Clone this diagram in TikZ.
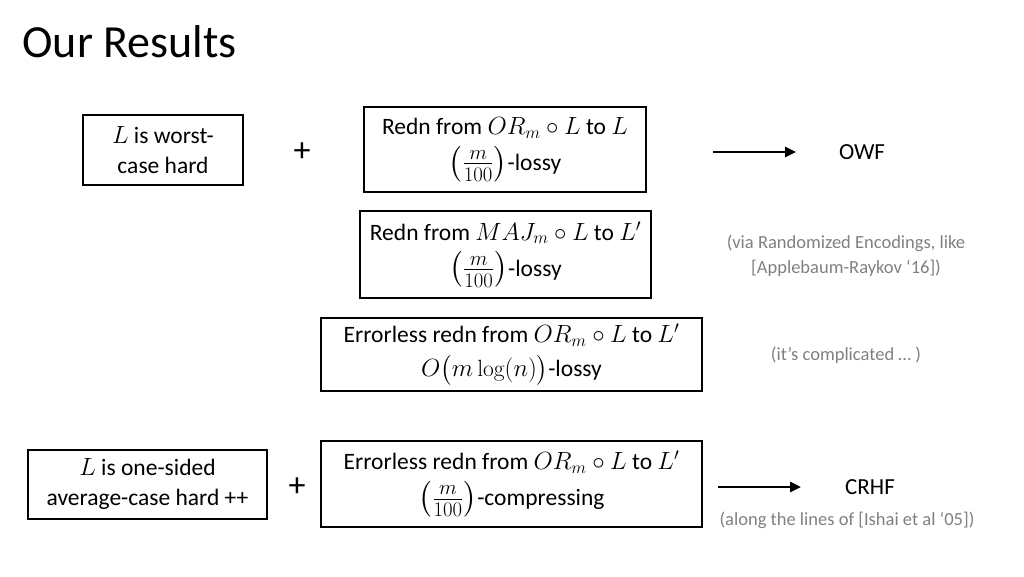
\documentclass[tikz,border=0pt]{standalone}
\usepackage{amsmath}
\usepackage{graphicx}
\usepackage{fontspec}
\setmainfont{Carlito}
\setmathrm{Latin Modern Roman}
\usetikzlibrary{arrows.meta}
\definecolor{note}{HTML}{808080}
\newcommand{\mfrac}{\raisebox{-1pt}{\scalebox{1.2}{$\left(\frac{m}{100}\right)$}}}
\tikzset{
  box/.style={draw, line width=1.6pt, align=center, inner sep=0pt, font=\fontsize{23.5}{30}\selectfont},
  plus/.style={font=\fontsize{34}{34}\selectfont},
  notetext/.style={text=note, align=center, font=\fontsize{18.5}{25}\selectfont},
  result/.style={font=\fontsize{23}{26}\selectfont},
  arr/.style={-{Triangle[length=11pt,width=10pt]}, line width=2.6pt}
}
\begin{document}
\begin{tikzpicture}[x=1pt,y=-1pt]
\useasboundingbox (0,0) rectangle (1024,576);
\node[anchor=west, font=\fontsize{46}{50}\selectfont] (title) at (19,42) {Our Results};
% row 1
\node[box, minimum width=160pt, minimum height=70pt] (b1) at (163,150) {$L$ is worst-\\case hard};
\node[plus] (p1) at (302,152) {+};
\node[box, minimum width=282pt, minimum height=85pt] (b2) at (505,149.5) {Redn from $OR_m\circ L$ to $L$\\[6pt]\mfrac-lossy};
\coordinate (a1s) at (713,152);
\coordinate (a1e) at (796,152);
\draw[arr] (a1s) -- (a1e);
\node[result] (owf) at (862,152) {OWF};
% row 2
\node[box, minimum width=291pt, minimum height=87pt] (b3) at (505.5,254.5) {Redn from $MAJ_m\circ L$ to $L'$\\[6pt]\mfrac-lossy};
\node[notetext] (n1) at (846,256) {(via Randomized Encodings, like\\{}[Applebaum-Raykov `16])};
% row 3
\node[box, minimum width=381pt, minimum height=73pt] (b4) at (511.5,354.5) {Errorless redn from $OR_m\circ L$ to $L'$\\[4pt]$O\bigl(m\log(n)\bigr)$-lossy};
\node[notetext] (n2) at (846,355) {(it's complicated \dots\ )};
% row 4
\node[box, minimum width=239pt, minimum height=69pt] (b5) at (147.5,484.5) {$L$ is one-sided\\average-case hard ++};
\node[plus] (p2) at (297,487) {+};
\node[box, minimum width=381pt, minimum height=86pt] (b6) at (511.5,484) {Errorless redn from $OR_m\circ L$ to $L'$\\[6pt]\mfrac-compressing};
\coordinate (a2s) at (718,487);
\coordinate (a2e) at (801,487);
\draw[arr] (a2s) -- (a2e);
\node[result] (crhf) at (870,487) {CRHF};
\node[notetext] (n3) at (847,520) {(along the lines of [Ishai et al `05])};
\end{tikzpicture}
\end{document}
